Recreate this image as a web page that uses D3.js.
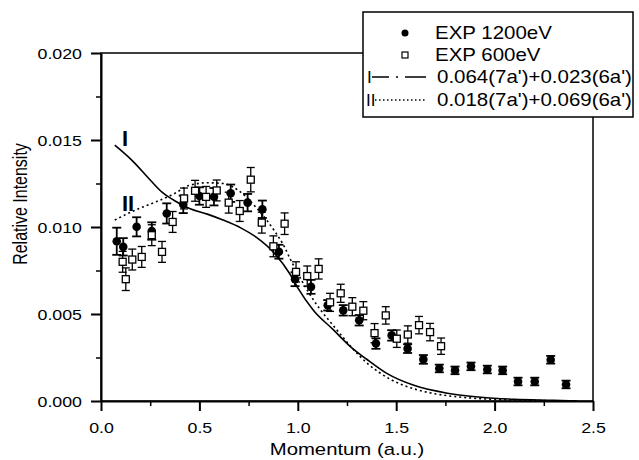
<!DOCTYPE html>
<html><head><meta charset="utf-8">
<script src="https://cdn.jsdelivr.net/npm/d3@7"></script>
<style>body{margin:0;background:#fff}svg{display:block}text{font-family:"Liberation Sans",Arial,sans-serif;fill:#000}</style>
</head><body><svg id="c" width="639" height="460"></svg>
<script>
// ---- data ----
const xTicks = [0.0, 0.5, 1.0, 1.5, 2.0, 2.5];
const xMinor = [0.25, 0.75, 1.25, 1.75, 2.25];
const yTicks = [0.000, 0.005, 0.010, 0.015, 0.020];
const yMinor = [0.0025, 0.0075, 0.0125, 0.0175];

const exp1200X = [0.080,0.113,0.181,0.258,0.334,0.418,0.500,0.574,0.659,0.745,0.820,0.904,0.986,1.067,1.152,1.231,1.312,1.397,1.477,1.558,1.638,1.719,1.799,1.880,1.963,2.041,2.119,2.204,2.285,2.363];
const exp1200Y = [0.00918,0.00886,0.01001,0.00977,0.01078,0.01130,0.01178,0.01174,0.01194,0.01140,0.01102,0.00858,0.00700,0.00656,0.00550,0.00521,0.00464,0.00330,0.00377,0.00301,0.00239,0.00187,0.00176,0.00199,0.00181,0.00176,0.00112,0.00112,0.00237,0.00095];
const exp1200E = [0.00078,0.00050,0.00055,0.00050,0.00058,0.00050,0.00050,0.00050,0.00050,0.00050,0.00050,0.00040,0.00040,0.00040,0.00030,0.00030,0.00030,0.00030,0.00030,0.00025,0.00025,0.00022,0.00022,0.00022,0.00022,0.00022,0.00022,0.00022,0.00022,0.00022];

const exp600X = [0.110,0.126,0.159,0.207,0.258,0.310,0.364,0.422,0.478,0.534,0.588,0.649,0.705,0.761,0.817,0.876,0.933,0.991,1.048,1.106,1.164,1.218,1.277,1.333,1.390,1.447,1.503,1.559,1.616,1.672,1.728];
const exp600Y = [0.00800,0.00700,0.00813,0.00828,0.00953,0.00857,0.01029,0.01164,0.01208,0.01173,0.01210,0.01140,0.01092,0.01272,0.01025,0.00889,0.01019,0.00742,0.00718,0.00759,0.00567,0.00619,0.00542,0.00519,0.00390,0.00492,0.00358,0.00382,0.00436,0.00396,0.00315];
const exp600E = [0.00060,0.00065,0.00060,0.00060,0.00060,0.00060,0.00060,0.00060,0.00060,0.00060,0.00060,0.00060,0.00060,0.00070,0.00060,0.00060,0.00062,0.00058,0.00058,0.00058,0.00052,0.00052,0.00052,0.00052,0.00055,0.00050,0.00050,0.00050,0.00050,0.00050,0.00047];

const curveIX = [0.07,0.16,0.25,0.31,0.37,0.45,0.54,0.62,0.71,0.79,0.88,0.96,1.00,1.08,1.18,1.27,1.35,1.45,1.59,1.76,1.93,2.10,2.30,2.42];
const curveIY = [0.0147,0.0138,0.0127,0.0120,0.01154,0.01106,0.01074,0.0104,0.00995,0.0094,0.0085,0.0073,0.0065,0.0052,0.0041,0.0031,0.0024,0.0016,0.0009,0.00045,0.00022,0.0001,0.00004,0.0];
const curveIIX = [0.07,0.16,0.28,0.37,0.45,0.54,0.62,0.71,0.79,0.88,0.93,0.96,1.08,1.19,1.35,1.59,1.93,2.20,2.42];
const curveIIY = [0.0104,0.0109,0.01145,0.0119,0.0124,0.01254,0.0125,0.0120,0.0111,0.0098,0.0089,0.0082,0.0058,0.0042,0.0022,0.0007,0.00013,0.00003,0.0];

const legendLabels = ["EXP 1200eV","EXP 600eV","0.064(7a')+0.023(6a')","0.018(7a')+0.069(6a')"];
const curveTags = ["I","II"];
const xTitle = "Momentum (a.u.)";
const yTitle = "Relative Intensity";

// ---- drawing ----
const svg = d3.select("#c");
const x = d3.scaleLinear().domain([0, 2.5]).range([101, 593]);
const y = d3.scaleLinear().domain([0, 0.02]).range([401, 53]);
const K = 1.27; // horizontal stretch of text in the reference

// frame
svg.append("rect").attr("x", x(0)).attr("y", y(0.02)).attr("width", x(2.5)-x(0)).attr("height", y(0)-y(0.02))
  .attr("fill","none").attr("stroke","#000").attr("stroke-width",1.5);

// x axis
const gx = svg.append("g").attr("transform", `translate(0,${y(0)})`)
  .call(d3.axisBottom(x).tickValues(xTicks).tickSize(10).tickSizeOuter(0).tickFormat(d3.format(".1f")));
gx.select(".domain").attr("stroke-width", 2);
gx.selectAll(".tick line").attr("stroke-width", 2);
gx.selectAll(".tick text").attr("y",0).attr("dy",0).style("font-size","14px")
  .attr("transform", `translate(0,32) scale(${K},1)`);
svg.append("g").attr("transform", `translate(0,${y(0)})`)
  .call(d3.axisBottom(x).tickValues(xMinor).tickSize(5).tickSizeOuter(0).tickFormat(""))
  .call(g => { g.select(".domain").remove(); g.selectAll("line").attr("stroke-width",1.5); });

// y axis
const gy = svg.append("g").attr("transform", `translate(${x(0)},0)`)
  .call(d3.axisLeft(y).tickValues(yTicks).tickSize(10).tickSizeOuter(0).tickFormat(d3.format(".3f")));
gy.select(".domain").attr("stroke-width", 2);
gy.selectAll(".tick line").attr("stroke-width", 2);
gy.selectAll(".tick text").attr("x",0).attr("dy","0.36em").style("font-size","14px")
  .attr("transform", `translate(-19,0) scale(${K},1)`);
svg.append("g").attr("transform", `translate(${x(0)},0)`)
  .call(d3.axisLeft(y).tickValues(yMinor).tickSize(5).tickSizeOuter(0).tickFormat(""))
  .call(g => { g.select(".domain").remove(); g.selectAll("line").attr("stroke-width",1.5); });

// axis titles
svg.append("text").attr("transform", `translate(${(x(0)+x(2.5))/2},455) scale(${K},1)`)
  .attr("text-anchor","middle").style("font-size","16px").text(xTitle);
svg.append("text").attr("transform", `translate(27,204) rotate(-90) scale(1,${K})`)
  .attr("text-anchor","middle").style("font-size","16px").text(yTitle);

// curves
const line = d3.line().x(d => x(d[0])).y(d => y(d[1])).curve(d3.curveMonotoneX);
const cI = curveIX.map((v,i) => [v, curveIY[i]]);
const cII = curveIIX.map((v,i) => [v, curveIIY[i]]);
svg.append("path").attr("d", line(cI)).attr("fill","none").attr("stroke","#000").attr("stroke-width",1.6);
svg.append("path").attr("d", line(cII)).attr("fill","none").attr("stroke","#000").attr("stroke-width",1.6)
  .attr("stroke-dasharray","2,3");

// curve tags
svg.append("text").attr("x",122).attr("y",146).style("font-size","22px").style("font-weight","bold").text(curveTags[0]);
svg.append("text").attr("x",122).attr("y",211).style("font-size","22px").style("font-weight","bold").text(curveTags[1]);

// error bars helper
function errorBars(xs, ys, es, w, sw) {
  const g = svg.append("g").attr("stroke","#000").attr("stroke-width",sw);
  xs.forEach((v,i) => {
    const px = x(v), t = y(ys[i]+es[i]), b = y(ys[i]-es[i]);
    g.append("line").attr("x1",px).attr("x2",px).attr("y1",t).attr("y2",b);
    g.append("line").attr("x1",px-w).attr("x2",px+w).attr("y1",t).attr("y2",t);
    g.append("line").attr("x1",px-w).attr("x2",px+w).attr("y1",b).attr("y2",b);
  });
}
errorBars(exp1200X, exp1200Y, exp1200E, 4.5, 1.8);
svg.append("g").selectAll("circle").data(exp1200X).join("circle")
  .attr("cx", d => x(d)).attr("cy", (d,i) => y(exp1200Y[i])).attr("r",4.3).attr("fill","#000");

errorBars(exp600X, exp600Y, exp600E, 4, 1.3);
svg.append("g").selectAll("rect").data(exp600X).join("rect")
  .attr("x", d => x(d)-3.5).attr("y", (d,i) => y(exp600Y[i])-3.5).attr("width",7).attr("height",7)
  .attr("fill","#fff").attr("stroke","#000").attr("stroke-width",1.3);

// legend
const lg = svg.append("g");
lg.append("rect").attr("x",363).attr("y",12).attr("width",270).attr("height",105)
  .attr("fill","#fff").attr("stroke","#000").attr("stroke-width",1.5);
const rows = [33, 55, 77, 100];
lg.append("circle").attr("cx",405).attr("cy",rows[0]).attr("r",3.5).attr("fill","#000");
lg.append("rect").attr("x",402).attr("y",rows[1]-3).attr("width",6).attr("height",6)
  .attr("fill","#fff").attr("stroke","#000").attr("stroke-width",1.2);
lg.append("text").attr("transform",`translate(367,${rows[2]+6})`).style("font-size","17px").text("I");
lg.append("line").attr("x1",372).attr("x2",426).attr("y1",rows[2]).attr("y2",rows[2])
  .attr("stroke","#000").attr("stroke-width",1.3).attr("stroke-dasharray","17,7,2,7,21");
lg.append("text").attr("transform",`translate(366,${rows[3]+6})`).style("font-size","17px").text("II");
lg.append("line").attr("x1",375).attr("x2",426).attr("y1",rows[3]).attr("y2",rows[3])
  .attr("stroke","#000").attr("stroke-width",1.3).attr("stroke-dasharray","1.5,2.5");
legendLabels.forEach((t,i) => {
  lg.append("text").attr("transform",`translate(${i<2?435:437},${rows[i]+6}) scale(1.17,1)`)
    .style("font-size","17.5px").text(t);
});
</script></body></html>
